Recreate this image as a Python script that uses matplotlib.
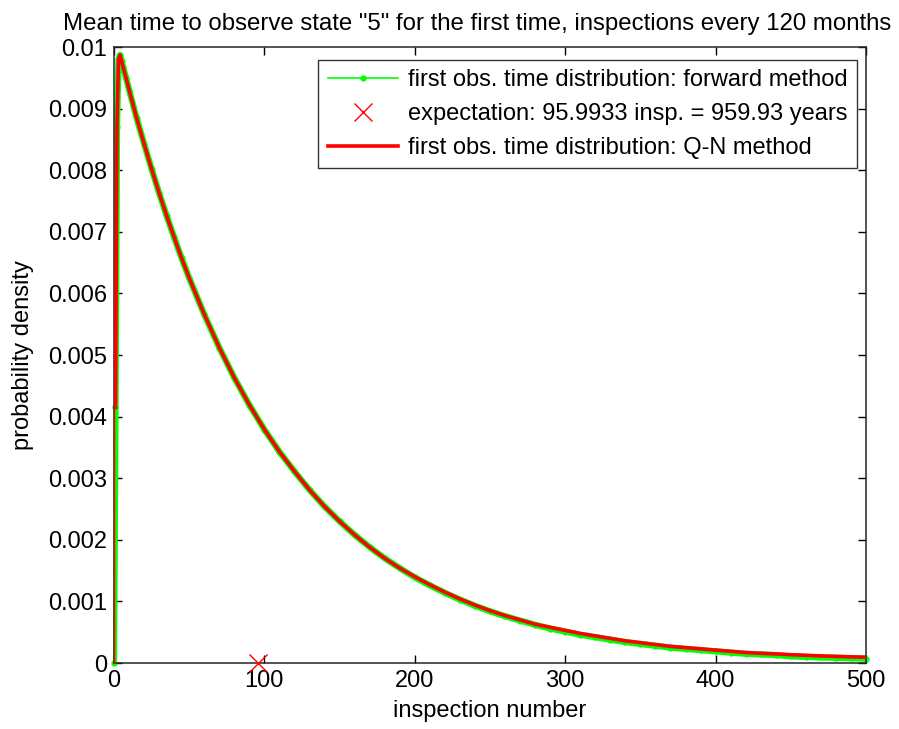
import matplotlib
matplotlib.use("Agg")
import matplotlib.pyplot as plt
import numpy as np

plt.rcParams['font.family'] = ['Liberation Sans', 'DejaVu Sans']

# inspection numbers at which the distributions are tabulated
inspections = [0, 1, 2, 3, 4, 5, 6, 8, 10, 15, 20, 25, 30, 35, 40, 45, 50,
               60, 70, 80, 90, 100, 110, 120, 130, 140, 150, 160, 170, 180, 190,
               200, 210, 220, 230, 240, 250, 260, 270, 280, 290, 300, 310, 320,
               330, 340, 350, 360, 370, 380, 390, 400, 410, 420, 430, 440, 450,
               460, 470, 480, 490, 500]

# first observation time distribution, forward method
forward = [0.0, 0.00415, 0.0087, 0.0098, 0.00987, 0.00978, 0.00968, 0.00950,
           0.00931, 0.00885, 0.00843, 0.00802, 0.00763, 0.00726, 0.00691,
           0.00657, 0.00625, 0.00566, 0.00512, 0.00463, 0.00419, 0.00379,
           0.00343, 0.00311, 0.00281, 0.00254, 0.00230, 0.00208, 0.00188,
           0.00170, 0.00154, 0.00139, 0.00126, 0.00114, 0.00103, 0.00093,
           0.00084, 0.00076, 0.00069, 0.00062, 0.00056, 0.00051, 0.00046,
           0.00042, 0.00038, 0.00034, 0.00031, 0.00028, 0.00025, 0.00023,
           0.00021, 0.00019, 0.00017, 0.00015, 0.00014, 0.00013, 0.00011,
           0.00010, 0.00009, 0.000085, 0.000077, 0.00007]

# first observation time distribution, Q-N method (starts at inspection 1)
qn_inspections = inspections[1:]
qn = [0.00415, 0.0087, 0.0098, 0.00987, 0.00978, 0.00968, 0.00950,
      0.00931, 0.00885, 0.00843, 0.00802, 0.00763, 0.00726, 0.00691,
      0.00657, 0.00625, 0.00566, 0.00512, 0.00463, 0.00419, 0.00379,
      0.00343, 0.00311, 0.00281, 0.00254, 0.00230, 0.00208, 0.00188,
      0.00170, 0.00154, 0.00140, 0.00127, 0.00115, 0.00104, 0.00094,
      0.00085, 0.00077, 0.00070, 0.00063, 0.00058, 0.00053, 0.00048,
      0.00044, 0.00040, 0.00036, 0.00033, 0.00030, 0.00027, 0.00025,
      0.00023, 0.00021, 0.00019, 0.00017, 0.000158, 0.000147, 0.000135,
      0.000125, 0.000115, 0.000108, 0.0001, 0.000095]

expectation_insp = 95.9933
expectation_years = 959.93

x_ticks = [0, 100, 200, 300, 400, 500]
y_ticks = [0, 0.001, 0.002, 0.003, 0.004, 0.005, 0.006, 0.007, 0.008, 0.009, 0.01]
y_tick_labels = ['0', '0.001', '0.002', '0.003', '0.004', '0.005', '0.006',
                 '0.007', '0.008', '0.009', '0.01']

FS = 17

fig = plt.figure(figsize=(8.99, 7.29), dpi=100)
ax = fig.add_axes([0.1268, 0.0905, 0.8365, 0.845])

green = (0.0, 1.0, 0.0)
red = (1.0, 0.0, 0.0)

# broad green band underneath, then the labelled green line with dots
ax.plot(inspections, forward, color=green, lw=4.5, solid_capstyle='butt', zorder=2)
h_fw, = ax.plot(inspections, forward, color=green, lw=1.2, marker='.',
                markersize=7, label='first obs. time distribution: forward method',
                zorder=2, clip_on=False)
h_ex, = ax.plot([expectation_insp], [0], linestyle='none', marker='x',
                color=red, markersize=13, markeredgewidth=1,
                label='expectation: %g insp. = %g years' % (expectation_insp, expectation_years),
                zorder=4, clip_on=False)
# thin connector from the origin up to the first Q-N value
ax.plot([inspections[0], inspections[0]], [forward[0], qn[0]], color=red, lw=1,
        zorder=3, clip_on=False)
h_qn, = ax.plot(qn_inspections, qn, color=red, lw=2.6,
                label='first obs. time distribution: Q-N method', zorder=3)

ax.set_xlim(0, 500)
ax.set_ylim(0, 0.01)
ax.set_xticks(x_ticks)
ax.set_yticks(y_ticks)
ax.set_yticklabels(y_tick_labels)
ax.tick_params(direction='in', top=True, right=True, length=6, width=1,
               labelsize=FS, colors='black', pad=5)
for s in ax.spines.values():
    s.set_linewidth(1.1)
    s.set_color('#262626')

ax.set_xlabel('inspection number', fontsize=FS, labelpad=6)
ax.set_ylabel('probability density', fontsize=FS, labelpad=10)
ax.set_title('Mean time to observe state "5" for the first time, inspections every 120 months',
             fontsize=17.3, pad=12, x=0.483)

leg = ax.legend(handles=[h_fw, h_ex, h_qn], loc='upper right', fontsize=FS,
                bbox_to_anchor=(0.988, 0.979), borderaxespad=0.0,
                frameon=True, fancybox=False,
                handlelength=3.0, handletextpad=0.4, labelspacing=0.5,
                borderpad=0.4)
leg.get_frame().set_edgecolor('black')
leg.get_frame().set_linewidth(1.0)

fig.savefig('out.png', dpi=100)
